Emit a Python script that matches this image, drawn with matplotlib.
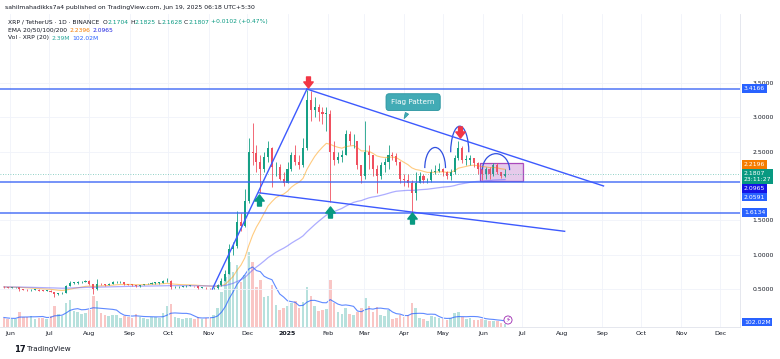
import numpy as np
import pandas as pd
import matplotlib
matplotlib.use("Agg")
import matplotlib.pyplot as plt
import matplotlib.dates as mdates
from matplotlib.patches import Arc, Rectangle
from matplotlib.path import Path

plt.rcParams['font.family'] = ['DejaVu Sans']

# ---- data (3-day candles, XRP/USDT) ----
start_date = "2024-05-26"
first_open = 0.535
closes = [0.530, 0.520, 0.522, 0.525, 0.495, 0.492, 0.480, 0.490, 0.492, 0.478,
          0.475, 0.475, 0.460, 0.430, 0.435, 0.445, 0.545, 0.590, 0.590, 0.600,
          0.600, 0.620, 0.575, 0.500, 0.580, 0.570, 0.565, 0.580, 0.600, 0.600,
          0.600, 0.570, 0.565, 0.560, 0.540, 0.555, 0.570, 0.580, 0.590, 0.590,
          0.590, 0.615, 0.620, 0.525, 0.530, 0.530, 0.540, 0.550, 0.550, 0.540,
          0.520, 0.520, 0.515, 0.510, 0.510, 0.555, 0.620, 0.720, 1.080, 1.120,
          1.480, 1.420, 1.780, 2.500, 2.480, 2.350, 2.250, 2.420, 2.550, 2.270,
          2.270, 2.100, 2.050, 2.250, 2.450, 2.350, 2.300, 2.550, 3.250, 3.100,
          3.150, 3.080, 3.050, 3.050, 2.500, 2.380, 2.420, 2.450, 2.750, 2.650,
          2.650, 2.300, 2.150, 2.500, 2.450, 2.250, 2.150, 2.300, 2.350, 2.450,
          2.440, 2.350, 2.100, 2.080, 2.050, 1.900, 2.050, 2.150, 2.080, 2.080,
          2.200, 2.220, 2.250, 2.200, 2.150, 2.200, 2.400, 2.550, 2.380, 2.380,
          2.400, 2.330, 2.250, 2.170, 2.250, 2.180, 2.300, 2.200, 2.150, 2.181]
highs = [0.540, 0.535, 0.530, 0.532, 0.528, 0.500, 0.495, 0.495, 0.500, 0.495,
         0.482, 0.485, 0.480, 0.460, 0.445, 0.455, 0.560, 0.620, 0.600, 0.615,
         0.610, 0.635, 0.630, 0.580, 0.640, 0.590, 0.580, 0.590, 0.610, 0.610,
         0.610, 0.600, 0.575, 0.575, 0.560, 0.565, 0.580, 0.590, 0.595, 0.600,
         0.600, 0.630, 0.660, 0.625, 0.540, 0.540, 0.545, 0.555, 0.560, 0.550,
         0.540, 0.530, 0.530, 0.520, 0.525, 0.570, 0.660, 0.780, 1.150, 1.180,
         1.630, 1.600, 1.950, 2.700, 2.920, 2.600, 2.450, 2.500, 2.650, 2.560,
         2.350, 2.320, 2.200, 2.350, 2.500, 2.600, 2.450, 2.700, 3.400, 3.380,
         3.300, 3.200, 3.150, 3.150, 3.100, 2.650, 2.500, 2.530, 2.820, 2.800,
         2.750, 2.650, 2.300, 2.950, 2.600, 2.450, 2.300, 2.350, 2.400, 2.600,
         2.500, 2.480, 2.370, 2.180, 2.180, 2.080, 2.200, 2.200, 2.180, 2.120,
         2.250, 2.300, 2.330, 2.260, 2.220, 2.250, 2.450, 2.650, 2.580, 2.450,
         2.450, 2.400, 2.350, 2.250, 2.280, 2.270, 2.340, 2.330, 2.200, 2.250]
lows = [0.520, 0.512, 0.512, 0.515, 0.470, 0.482, 0.470, 0.470, 0.482, 0.470,
        0.465, 0.468, 0.450, 0.390, 0.415, 0.430, 0.440, 0.540, 0.570, 0.580,
        0.585, 0.595, 0.560, 0.430, 0.490, 0.555, 0.550, 0.555, 0.575, 0.585,
        0.590, 0.560, 0.555, 0.550, 0.525, 0.535, 0.555, 0.570, 0.575, 0.580,
        0.580, 0.590, 0.600, 0.505, 0.520, 0.520, 0.525, 0.535, 0.540, 0.530,
        0.505, 0.510, 0.505, 0.495, 0.495, 0.505, 0.550, 0.620, 0.720, 1.000,
        1.100, 1.350, 1.400, 1.750, 2.300, 2.200, 1.900, 2.200, 2.350, 1.980,
        2.150, 2.080, 2.000, 2.040, 2.220, 2.300, 2.250, 2.280, 2.520, 2.950,
        3.000, 2.950, 2.900, 2.800, 1.770, 2.300, 2.330, 2.350, 2.450, 2.600,
        2.550, 2.250, 2.050, 2.100, 2.250, 2.150, 1.900, 2.100, 2.200, 2.250,
        2.380, 2.300, 2.050, 2.000, 1.980, 1.610, 1.800, 2.050, 2.050, 2.050,
        2.060, 2.170, 2.200, 2.150, 2.100, 2.080, 2.180, 2.380, 2.340, 2.300,
        2.300, 2.280, 2.180, 2.080, 2.100, 2.100, 2.150, 2.170, 2.120, 2.130]
volumes_m = [190, 170, 160, 170, 300, 200, 210, 220, 170, 180,
             190, 160, 220, 420, 260, 230, 480, 550, 330, 300,
             260, 290, 340, 620, 520, 280, 240, 220, 250, 240,
             190, 230, 210, 190, 260, 200, 190, 170, 210, 200,
             190, 280, 420, 460, 210, 180, 170, 190, 180, 170,
             210, 160, 190, 190, 240, 380, 700, 1000, 1300, 1100,
             1250, 900, 1050, 1500, 1300, 800, 950, 600, 620, 850,
             450, 350, 380, 420, 480, 520, 380, 500, 800, 620,
             430, 330, 350, 360, 950, 480, 300, 270, 380, 270,
             240, 300, 380, 580, 420, 310, 400, 250, 220, 340,
             170, 180, 240, 210, 240, 480, 380, 190, 160, 120,
             230, 210, 180, 160, 140, 180, 290, 300, 200, 170,
             190, 140, 150, 170, 150, 130, 130, 120, 90, 60]

levels = [3.4166, 2.0591, 1.6134]
last_price = 2.1807

rise_line = (["2024-11-04", "2025-01-16"], [0.50, 3.41])
upper_line = (["2025-01-16", "2025-09-02"], [3.41, 2.00])
lower_line = (["2024-12-10", "2025-08-03"], [1.90, 1.34])

sell_dates, sell_prices = ["2025-01-17", "2025-05-14"], [3.52, 2.78]
buy_dates, buy_prices = ["2024-12-10", "2025-02-03", "2025-04-07"], [1.80, 1.62, 1.53]

arc_dates = ["2025-04-25", "2025-05-14", "2025-06-11"]
arc_base = [2.26, 2.49, 2.23]
arc_width_days = [16, 14, 21]
arc_height = [0.30, 0.38, 0.24]

box_dates = ["2025-05-30", "2025-07-02"]
box_prices = [2.072, 2.334]

flag_label = ("2025-04-08", 3.22)
flag_tip = ("2025-03-31", 2.945)

# ---- figure ----
W, H = 780, 359
fig = plt.figure(figsize=(W / 100, H / 100), dpi=100)
fig.patch.set_facecolor('white')
ax = fig.add_axes([0, 1 - 327 / H, 740 / W, 313 / H])
axv = ax.twinx()
ax.set_zorder(2)
ax.patch.set_visible(False)
axv.set_zorder(1)

green, red = '#089981', '#f23645'
blue = '#2962ff'

dates = pd.date_range(start_date, periods=len(closes), freq='3D') + pd.Timedelta(days=1)
xd = mdates.date2num(dates)
opens = [first_open] + closes[:-1]
o = np.array(opens)
c = np.array(closes)
up = c >= o
cols = np.where(up, '#16a085', '#f0505f')

# volume
vcols = np.where(up, '#26a69a', '#ef5350')
axv.bar(xd, volumes_m, width=2.0, color=vcols, alpha=0.33, linewidth=0)
vol_ma = pd.Series(volumes_m).rolling(7, min_periods=1).mean()
axv.plot(xd, vol_ma, color=blue, lw=0.8, alpha=0.75)
axv.set_ylim(0, 313 * 20)
axv.set_yticks([])
for s in axv.spines.values():
    s.set_visible(False)

# EMAs
cs = pd.Series(closes)
ema50 = cs.ewm(span=50 / 3, adjust=False).mean()
ema200 = cs.ewm(span=200 / 3, adjust=False).mean()
ax.plot(xd, ema50, color='#ff9800', lw=0.8, alpha=0.5)
ax.plot(xd, ema200, color='#5c5cff', lw=0.9, alpha=0.5)

# candles
ax.vlines(xd, lows, highs, colors=cols, lw=0.6)
body_low = np.minimum(o, c)
body_h = np.maximum(np.abs(c - o), 0.006)
ax.bar(xd, body_h, bottom=body_low, width=1.6, color=cols, linewidth=0)

# levels
for lv in levels:
    ax.axhline(lv, color='#3d66f5', lw=1.1, alpha=0.9)
ax.axhline(last_price, color=green, lw=0.6, ls=(0, (1, 2)), alpha=0.6)


def dn(d):
    return mdates.date2num(pd.Timestamp(d))


for ln in (rise_line, upper_line, lower_line):
    ax.plot([dn(d) for d in ln[0]], ln[1], color='#3d5afe', lw=1.0)

# box
b0, b1 = dn(box_dates[0]), dn(box_dates[1])
ax.add_patch(Rectangle((b0, box_prices[0]), b1 - b0, box_prices[1] - box_prices[0],
                       fc='#ba68c8', alpha=0.35, ec='none'))
ax.add_patch(Rectangle((b0, box_prices[0]), b1 - b0, box_prices[1] - box_prices[0],
                       fc='none', ec='#9c27b0', lw=0.9, alpha=0.8))

# arcs
for d, b, w, h in zip(arc_dates, arc_base, arc_width_days, arc_height):
    ax.add_patch(Arc((dn(d), b), w, h * 2, theta1=0, theta2=180, color='#2f4fe0', lw=0.9))

# arrow markers
down_verts = [(-0.35, 1), (0.35, 1), (0.35, 0.1), (0.85, 0.1), (0, -1), (-0.85, 0.1),
              (-0.35, 0.1), (-0.35, 1)]
down_arrow = Path(down_verts, closed=True)
up_arrow = Path([(x, -y) for x, y in down_verts], closed=True)
ax.plot([dn(d) for d in sell_dates], sell_prices, ls='none', marker=down_arrow,
        ms=8, color=red, mec=red)
ax.plot([dn(d) for d in buy_dates], buy_prices, ls='none', marker=up_arrow,
        ms=8, color=green, mec=green)

# flag pattern callout
ax.annotate("Flag Pattern", xy=(dn(flag_tip[0]), flag_tip[1]),
            xytext=(dn(flag_label[0]), flag_label[1]), color='white', fontsize=5.2,
            ha='center', va='center',
            bbox=dict(boxstyle='round,pad=0.75,rounding_size=0.45', fc='#42abb5', ec='#2a95a0', lw=0.6),
            arrowprops=dict(arrowstyle='wedge,tail_width=0.5,shrink_factor=0.6',
                            fc='#42abb5', ec='#2a95a0', lw=0.5))

# axes ranges
jan1 = dn("2025-01-01")
ax.set_xlim(jan1 - 222.0, jan1 + 349.4)
ax.set_ylim(0.5 - 38 / 68.7, 0.5 + 275 / 68.7)

ax.yaxis.tick_right()
ax.set_yticks([0.5, 1.0, 1.5, 2.5, 3.0, 3.5])
ax.set_yticklabels(["0.5000", "1.0000", "1.5000", "2.5000", "3.0000", "3.5000"])
ax.tick_params(axis='y', length=0, pad=9, labelsize=4.4, labelcolor='#131722')

month_ticks = pd.date_range("2024-06-01", "2025-12-01", freq='MS')
ax.set_xticks(mdates.date2num(month_ticks))
ax.set_xticklabels([str(m.year) if m.month == 1 else m.strftime('%b') for m in month_ticks])
ax.tick_params(axis='x', length=0, pad=3, labelsize=4.5, labelcolor='#131722')
ax.grid(True, color='#f0f3fa', lw=0.6)
ax.set_axisbelow(True)
for k, s in ax.spines.items():
    s.set_visible(k in ('bottom', 'right'))
    s.set_color('#e0e3eb')
    s.set_linewidth(0.6)
for lab in ax.get_xticklabels():
    if lab.get_text() == '2025':
        lab.set_fontweight('bold')

# header texts
r = fig.canvas.get_renderer()


def chain(y, parts, x0=8, size=4.3):
    x = x0
    for s, col, gap in parts:
        x += gap
        t = fig.text(x / W, 1 - y / H, s, color=col, fontsize=size, va='center', ha='left')
        x = t.get_window_extent(r).x1


chain(7, [("sahilmahadikks7a4 published on TradingView.com, Jun 19, 2025 06:18 UTC+5:30", '#131722', 0)],
      x0=5, size=4.4)
chain(22, [("XRP / TetherUS · 1D · BINANCE", '#131722', 0), ("O", '#131722', 3), ("2.1704", green, 0),
           ("H", '#131722', 2), ("2.1825", green, 0), ("L", '#131722', 2), ("2.1628", green, 0),
           ("C", '#131722', 2), ("2.1807", green, 0), ("+0.0102 (+0.47%)", green, 2)])
chain(30, [("EMA 20/50/100/200", '#131722', 0), ("2.2396", '#f57c00', 3), ("2.0965", '#1e22e0', 2)])
chain(38, [("Vol · XRP (20)", '#131722', 0), ("2.39M", '#26a69a', 3), ("102.02M", blue, 2)])


# price scale tags
def tag(y, s, col):
    fig.text(744 / W, 1 - y / H, s, color='white', fontsize=4.4, ha='left', va='center',
             linespacing=1.2, bbox=dict(boxstyle='square,pad=0.3', fc=col, ec='none'))


tag(88.5, "3.4166", blue)
tag(164.7, "2.2196", '#f57c00')
tag(176.5, "2.1807\n23:11:27", green)
tag(188.7, "2.0965", '#1414e6')
tag(197, "2.0591", blue)
tag(212.7, "1.6134", blue)
tag(322, "102.02M", blue)

# small icon and footer
fig.text(508 / W, 1 - 320 / H, "⚡", color='#9c27b0', fontsize=5, ha='center', va='center',
         bbox=dict(boxstyle='circle,pad=0.15', fc='white', ec='#9c27b0', lw=0.6))
fig.text(14 / W, 1 - 349 / H, "17", color='#131722', fontsize=6, fontweight='heavy', ha='left', va='center')
fig.text(27 / W, 1 - 349 / H, "TradingView", color='#131722', fontsize=5.2, ha='left', va='center')

fig.savefig("out.png", dpi=100)
